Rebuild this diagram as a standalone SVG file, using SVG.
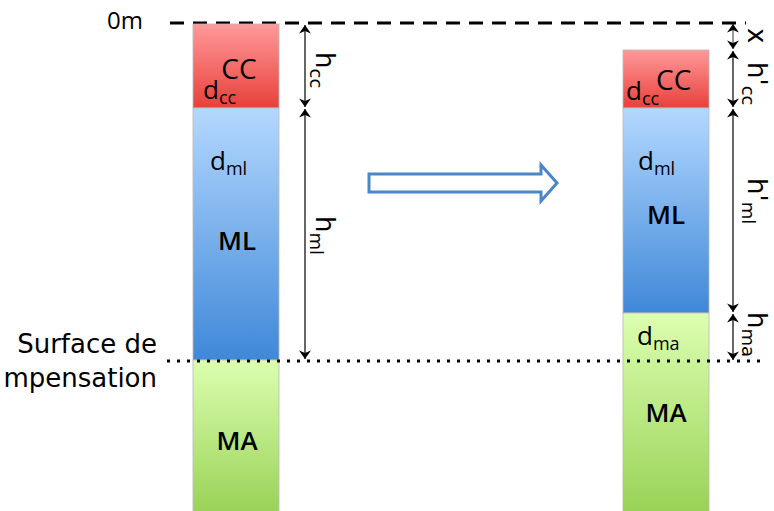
<svg xmlns="http://www.w3.org/2000/svg" width="774" height="511" viewBox="0 0 774 511">
<style>
.lbl{font-family:"Open Sans","Liberation Sans",sans-serif;font-size:26px;fill:#000}
.big{font-size:28px}
.bold{font-weight:600}
.sub{font-size:18px}
.zero{font-family:"Open Sans","Liberation Sans",sans-serif;font-size:24px;fill:#000;font-weight:500}
.dv{font-family:"DejaVu Sans",sans-serif;font-size:26px;fill:#000}
.dvs{font-size:18px}
.dim{stroke:#000;stroke-width:1.2;fill:none;marker-start:url(#ah);marker-end:url(#ah)}
.blk{stroke:#b8b8b8;stroke-width:0.8}
</style>
<defs>
<marker id="ah" viewBox="0 0 10 20" refX="10" refY="10" markerWidth="9" markerHeight="17" markerUnits="userSpaceOnUse" orient="auto-start-reverse">
<path d="M0,3 L10,10 L0,17 L3,10 Z" fill="#000"/>
</marker>
<linearGradient id="gr" x1="0" y1="0" x2="0" y2="1"><stop offset="0" stop-color="#ff9a9a"/><stop offset="1" stop-color="#e8403a"/></linearGradient>
<linearGradient id="gb" x1="0" y1="0" x2="0" y2="1"><stop offset="0" stop-color="#b4d8ff"/><stop offset="1" stop-color="#3f88d8"/></linearGradient>
<linearGradient id="gg" x1="0" y1="0" x2="0" y2="1"><stop offset="0" stop-color="#dcffb0"/><stop offset="1" stop-color="#99d257"/></linearGradient>
</defs>
<line x1="170" y1="23" x2="746" y2="23" stroke="#000" stroke-width="3" stroke-dasharray="14,9"/>
<text x="107" y="29" class="zero">0m</text>
<g id="left-cc"><rect x="193" y="24" width="86" height="84" fill="url(#gr)" class="blk"/>
<text x="239" y="79" class="lbl big" text-anchor="middle">CC</text>
<text x="203" y="99" class="lbl">d<tspan class="sub" dy="5">cc</tspan></text></g>
<g id="left-ml"><rect x="193" y="108" width="86" height="252" fill="url(#gb)" class="blk"/>
<text x="210" y="170" class="lbl">d<tspan class="sub" dy="5">ml</tspan></text>
<text x="237" y="250" class="lbl bold" text-anchor="middle">ML</text></g>
<g id="left-ma"><rect x="193" y="360" width="86" height="152" fill="url(#gg)" class="blk"/>
<text x="237" y="450" class="lbl bold" text-anchor="middle">MA</text></g>
<g id="right-cc"><rect x="623" y="50" width="86" height="58" fill="url(#gr)" class="blk"/>
<text x="626" y="100" class="lbl">d<tspan class="sub" dy="5">cc</tspan></text>
<text x="656" y="90" class="lbl big">CC</text></g>
<g id="right-ml"><rect x="623" y="108" width="86" height="205" fill="url(#gb)" class="blk"/>
<text x="638" y="170" class="lbl">d<tspan class="sub" dy="5">ml</tspan></text>
<text x="666" y="224" class="lbl bold" text-anchor="middle">ML</text></g>
<g id="right-ma"><rect x="623" y="313" width="86" height="199" fill="url(#gg)" class="blk"/>
<text x="637" y="345" class="lbl">d<tspan class="sub" dy="5">ma</tspan></text>
<text x="666" y="422" class="lbl bold" text-anchor="middle">MA</text></g>
<line x1="167" y1="361" x2="760" y2="361" stroke="#000" stroke-width="3" stroke-dasharray="3,7"/>
<text x="157" y="353" class="dv" text-anchor="end">Surface de</text>
<text x="157" y="387" class="dv" text-anchor="end">mpensation</text>
<g id="arrow"><path d="M369,174 L541,174 L541,165 L557,183 L541,201 L541,192 L369,192 Z" fill="#fff" stroke="#4a86c8" stroke-width="3"/></g>
<g id="connectors">
<line x1="305" y1="25" x2="305" y2="107" class="dim"/>
<line x1="305" y1="109" x2="305" y2="359" class="dim"/>
<line x1="733" y1="24" x2="733" y2="49" class="dim" style="stroke-width:0.8"/>
<line x1="733" y1="51" x2="733" y2="107" class="dim"/>
<line x1="733" y1="109" x2="733" y2="312" class="dim"/>
<line x1="733" y1="314" x2="733" y2="360" class="dim"/>
</g>
<text class="dv" transform="translate(316,52) rotate(90)">h<tspan class="dvs" dy="6">cc</tspan></text>
<text class="dv" transform="translate(316,216) rotate(90)">h<tspan class="dvs" dy="6">ml</tspan></text>
<text class="dv" transform="translate(748,28) rotate(90)">x</text>
<text class="dv" transform="translate(748,62) rotate(90)">h'<tspan class="dvs" dy="6">cc</tspan></text>
<text class="dv" transform="translate(748,178) rotate(90)">h'<tspan class="dvs" dy="6">ml</tspan></text>
<text class="dv" transform="translate(748,312) rotate(90)">h<tspan class="dvs" dy="6">ma</tspan></text>
</svg>
